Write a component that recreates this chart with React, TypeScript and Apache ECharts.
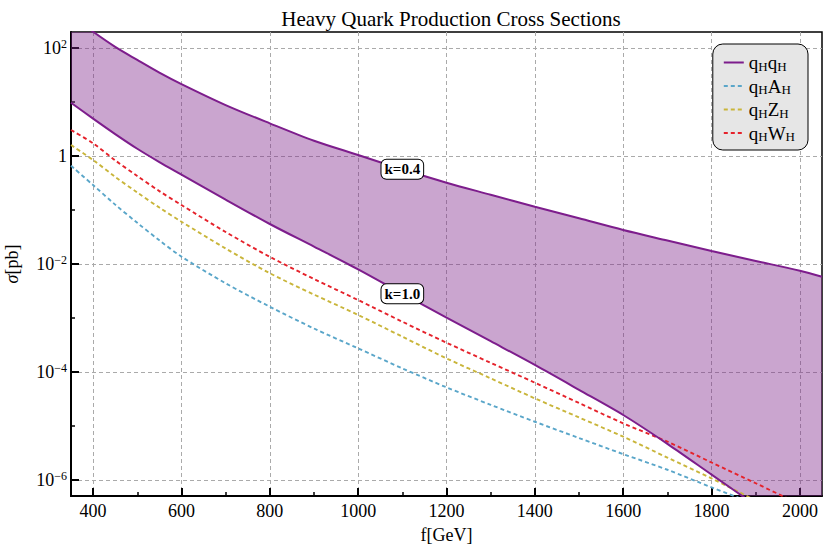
import { useEffect, useRef } from 'react';
import * as echarts from 'echarts';

// f [GeV]
const fGeV = [350, 400, 450, 500, 550, 600, 700, 800, 900, 1000, 1100, 1200, 1300, 1400, 1500, 1600, 1700, 1800, 1900, 2000, 2050];
// sigma [pb]
const sigmaK04 = [398, 200, 105, 60.3, 35.1, 21.5, 8.79, 4.03, 1.92, 1.045, 0.568, 0.321, 0.192, 0.115, 0.0702, 0.0427, 0.0272, 0.0174, 0.0114, 0.00753, 0.00582];
const sigmaK10 = [9.7, 4.93, 2.55, 1.365, 0.774, 0.454, 0.156, 0.0551, 0.021, 0.00796, 0.00282, 0.00102, 3.72e-4, 1.35e-4, 4.68e-5, 1.6e-5, 4.68e-6, 1.26e-6, 3.39e-7, 8.91e-8, 4.68e-8];
const sigmaAH = [0.661, 0.29, 0.126, 0.0579, 0.0275, 0.0137, 0.0044, 0.00162, 6.4e-4, 2.74e-4, 1.17e-4, 5.2e-5, 2.47e-5, 1.2e-5, 6.0e-6, 3.02e-6, 1.55e-6, 7.31e-7, 3.55e-7, 1.74e-7, 1.2e-7];
const sigmaZH = [1.6, 0.843, 0.412, 0.211, 0.111, 0.0608, 0.0194, 0.00676, 0.00272, 0.00114, 4.51e-4, 1.79e-4, 7.64e-5, 3.25e-5, 1.44e-5, 6.34e-6, 2.6e-6, 1.07e-6, 4.17e-7, 1.58e-7, 1.0e-7];
const sigmaWH = [3.03, 1.72, 0.832, 0.427, 0.224, 0.124, 0.0392, 0.0136, 0.00527, 0.00215, 8.55e-4, 3.49e-4, 1.48e-4, 6.34e-5, 2.67e-5, 1.12e-5, 5.13e-6, 2.11e-6, 8.71e-7, 3.55e-7, 2.24e-7];

const xTicks = [400, 600, 800, 1000, 1200, 1400, 1600, 1800, 2000];
const xMinorTicks = [500, 700, 900, 1100, 1300, 1500, 1700, 1900];
const yTicks = [1e-6, 1e-4, 1e-2, 1, 1e2];
const yMinorTicks = [1e-5, 1e-3, 1e-1, 10];

const legendNames = ['qHqH', 'qHAH', 'qHZH', 'qHWH'];
const legendParts: Record<string, string[]> = {
  qHqH: ['q', 'H', 'q', 'H'],
  qHAH: ['q', 'H', 'A', 'H'],
  qHZH: ['q', 'H', 'Z', 'H'],
  qHWH: ['q', 'H', 'W', 'H'],
};
const kLabels = ['k=0.4', 'k=1.0'];
const kLabelF = 1100;

const FONT = '"Liberation Serif", "DejaVu Serif", serif';
const PURPLE = '#7d1d8c';
const BAND = 'rgba(128,40,140,0.42)';
const BLUE = '#5aa6c9';
const YELLOW = '#c9b53a';
const RED = '#e5222b';
const X_MIN = 350;
const X_MAX = 2050;
const Y_MIN = 5.06e-7;
const Y_MAX = 198;

const pairs = (ys: number[]) => fGeV.map((f, i) => [f, ys[i]]);

export default function App() {
  const ref = useRef<HTMLDivElement>(null);
  useEffect(() => {
    if (!ref.current) return;
    const chart = echarts.init(ref.current, undefined, { renderer: 'svg' });
    const kIdx = fGeV.indexOf(kLabelF);
    const kLabelStyle = {
      show: true,
      position: 'inside',
      color: '#000',
      fontFamily: FONT,
      fontWeight: 'bold',
      fontSize: 15,
      backgroundColor: '#fff',
      borderColor: '#000',
      borderWidth: 1,
      borderRadius: 5,
      padding: [3, 3, 1, 3],
    };
    const dashed = (name: string, data: number[], color: string) => ({
      type: 'line',
      name,
      data: pairs(data),
      symbol: 'none',
      smooth: 0.3,
      lineStyle: { color, width: 1.9, type: [4, 3] },
      itemStyle: { color },
      z: 3,
    });
    const option: any = {
      animation: false,
      backgroundColor: '#fff',
      title: {
        text: 'Heavy Quark Production Cross Sections',
        left: 446,
        top: 3,
        textAlign: 'center',
        textStyle: { fontFamily: FONT, fontSize: 21, fontWeight: 'normal', color: '#000' },
      },
      grid: {
        left: 71,
        right: 1,
        top: 32,
        bottom: 53,
        containLabel: false,
        outerBoundsMode: 'none',
        show: true,
        borderColor: '#000',
        borderWidth: 1.5,
        backgroundColor: 'transparent',
      },
      legend: {
        data: legendNames,
        orient: 'vertical',
        right: 15,
        top: 44,
        backgroundColor: '#e6e6e6',
        borderColor: '#000',
        borderWidth: 1,
        borderRadius: 10,
        padding: [9, 13, 7, 10],
        itemWidth: 20,
        itemHeight: 10,
        itemGap: 4,
        itemStyle: { opacity: 0 },
        formatter: (name: string) =>
          (legendParts[name] || [name]).map((p, i) => (i % 2 === 0 ? `{n|${p}}` : `{s|${p}}`)).join(''),
        textStyle: {
          fontFamily: FONT,
          fontSize: 19,
          color: '#000',
          rich: {
            n: { fontFamily: FONT, fontSize: 19, lineHeight: 20, color: '#000' },
            s: { fontFamily: FONT, fontSize: 13, lineHeight: 12, verticalAlign: 'bottom', color: '#000' },
          },
        },
      },
      xAxis: [
        {
          type: 'value',
          min: X_MIN,
          max: X_MAX,
          name: 'f[GeV]',
          nameLocation: 'middle',
          nameGap: 30,
          nameTextStyle: { fontFamily: FONT, fontSize: 18, color: '#000' },
          axisLine: { show: true, onZero: false, lineStyle: { color: '#000', width: 2 } },
          axisTick: { show: true, inside: true, length: 8, customValues: xTicks, lineStyle: { color: '#000', width: 2 } },
          axisLabel: {
            customValues: xTicks,
            formatter: (v: number) => String(v),
            fontFamily: FONT,
            fontSize: 18,
            color: '#000',
            margin: 6,
          },
          splitLine: { show: true, lineStyle: { color: '#aaaaaa', width: 1, type: [4, 3] } },
        },
        {
          type: 'value',
          min: X_MIN,
          max: X_MAX,
          position: 'bottom',
          axisLine: { show: false, onZero: false },
          axisTick: { show: true, inside: true, length: 4, customValues: xMinorTicks, lineStyle: { color: '#000', width: 1.5 } },
          axisLabel: { show: false },
          splitLine: { show: false },
        },
      ],
      yAxis: [
        {
          type: 'log',
          logBase: 10,
          min: Y_MIN,
          max: Y_MAX,
          name: '{i|σ}[pb]',
          nameLocation: 'middle',
          nameGap: 50,
          nameRotate: 90,
          nameTextStyle: {
            fontFamily: FONT,
            fontSize: 18,
            color: '#000',
            rich: { i: { fontFamily: FONT, fontSize: 18, fontStyle: 'italic', color: '#000' } },
          },
          axisLine: { show: true, onZero: false, lineStyle: { color: '#000', width: 2 } },
          axisTick: { show: true, inside: true, length: 8, customValues: yTicks, lineStyle: { color: '#000', width: 2 } },
          axisLabel: {
            customValues: yTicks,
            fontFamily: FONT,
            fontSize: 18,
            color: '#000',
            margin: 4,
            lineHeight: 20,
            formatter: (v: number) => {
              const e = Math.round(Math.log10(v));
              if (e === 0) return '1';
              const s = e < 0 ? '\u2212' + String(-e) : String(e);
              return `10{sup|${s}}`;
            },
            rich: {
              sup: { fontFamily: FONT, fontSize: 12, lineHeight: 12, verticalAlign: 'top', color: '#000' },
            },
          },
          splitLine: { show: true, lineStyle: { color: '#aaaaaa', width: 1, type: [4, 3] } },
        },
        {
          type: 'log',
          logBase: 10,
          min: Y_MIN,
          max: Y_MAX,
          position: 'left',
          axisLine: { show: false, onZero: false },
          axisTick: { show: true, inside: true, length: 4, customValues: yMinorTicks, lineStyle: { color: '#000', width: 1.5 } },
          axisLabel: { show: false },
          splitLine: { show: false },
        },
      ],
      series: [
        {
          type: 'custom',
          name: 'band',
          silent: true,
          clip: true,
          z: 1,
          data: [[fGeV[0], sigmaK10[0]]],
          renderItem: (_params: any, api: any) => {
            const pts: number[][] = [];
            fGeV.forEach((f, i) => pts.push(api.coord([f, sigmaK04[i]])));
            for (let i = fGeV.length - 1; i >= 0; i--) pts.push(api.coord([fGeV[i], sigmaK10[i]]));
            return { type: 'polygon', shape: { points: pts }, style: { fill: BAND } };
          },
        },
        dashed('qHAH', sigmaAH, BLUE),
        dashed('qHZH', sigmaZH, YELLOW),
        dashed('qHWH', sigmaWH, RED),
        {
          type: 'line',
          name: 'qHqH',
          data: pairs(sigmaK04),
          symbol: 'none',
          smooth: 0.3,
          lineStyle: { color: PURPLE, width: 2 },
          itemStyle: { color: PURPLE },
          z: 4,
          markPoint: {
            symbol: 'circle',
            symbolSize: 1,
            itemStyle: { color: 'rgba(0,0,0,0)' },
            label: kLabelStyle,
            data: [{ coord: [kLabelF, sigmaK04[kIdx]], value: kLabels[0], label: { formatter: kLabels[0] } }],
          },
        },
        {
          type: 'line',
          name: 'qHqH',
          data: pairs(sigmaK10),
          symbol: 'none',
          smooth: 0.3,
          lineStyle: { color: PURPLE, width: 2 },
          itemStyle: { color: PURPLE },
          z: 4,
          markPoint: {
            symbol: 'circle',
            symbolSize: 1,
            itemStyle: { color: 'rgba(0,0,0,0)' },
            label: kLabelStyle,
            data: [{ coord: [kLabelF, sigmaK10[kIdx]], value: kLabels[1], label: { formatter: kLabels[1] } }],
          },
        },
      ],
    };
    chart.setOption(option);
    return () => chart.dispose();
  }, []);
  return <div ref={ref} style={{ position: 'fixed', left: 0, top: 0, width: 823, height: 549 }} />;
}
